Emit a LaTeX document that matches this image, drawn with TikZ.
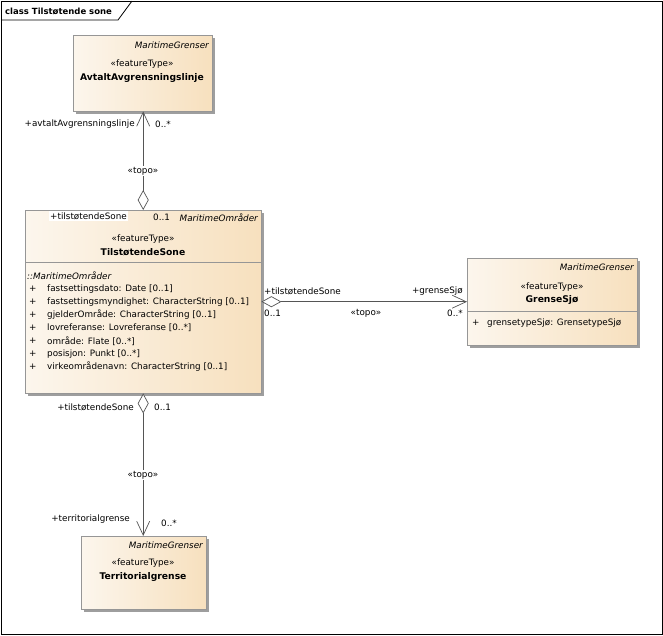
\documentclass[tikz,border=0pt]{standalone}
\usepackage{fontspec}
\setmainfont{DejaVu Sans}
\usetikzlibrary{positioning,arrows.meta,shadows}
\definecolor{boxlight}{RGB}{252,246,237}
\definecolor{boxdark}{RGB}{247,224,190}
\definecolor{boxline}{RGB}{150,150,150}
\definecolor{lineclr}{RGB}{85,85,85}
\tikzset{
  klasse/.style={draw=boxline,left color=boxlight,right color=boxdark,anchor=north west,inner sep=0pt,
    drop shadow={shadow xshift=3pt,shadow yshift=-3pt,fill=black!38,opacity=1}},
  lbl/.style={inner sep=1pt,font=\fontsize{8.8}{10}\selectfont},
  pakke/.style={lbl,anchor=east,font=\fontsize{8.8}{10}\selectfont\itshape},
  navn/.style={lbl,font=\fontsize{9.2}{11}\selectfont\bfseries},
  topo/.style={draw=lineclr,line width=0.7pt,
    {Diamond[open,fill=white,length=20pt,width=11pt]}-{Straight Barb[length=14pt,width=13pt]}},
}
\begin{document}
\begin{tikzpicture}[x=1pt,y=-1pt]
\useasboundingbox (0,0) rectangle (663,635);
\draw[line width=0.8pt] (1,1) rectangle (662,634);
\draw[line width=0.8pt] (1,20)--(118,20)--(132,1);
\node[lbl,anchor=west,font=\fontsize{8.5}{10}\selectfont\bfseries] (title) at (4,11) {class Tilstøtende sone};
\node[klasse,minimum width=139pt,minimum height=76pt] (avtalt) at (73,35) {};
\node[klasse,minimum width=236pt,minimum height=183pt] (sone) at (25,210) {};
\node[klasse,minimum width=170pt,minimum height=87pt] (sjo) at (467,258) {};
\node[klasse,minimum width=125pt,minimum height=73pt] (terr) at (81,536) {};
\draw[boxline] (sone.west |- 0,262)--(sone.east |- 0,262);
\draw[boxline] (sjo.west |- 0,311)--(sjo.east |- 0,311);
\node[pakke] (avtaltpk) at (210,45) {MaritimeGrenser};
\node[lbl] (avtaltst) at (142,64) {«featureType»};
\node[navn] (avtaltnm) at (142,78) {AvtaltAvgrensningslinje};
\node[pakke] (sonepk) at (259,218) {MaritimeOmråder};
\node[lbl] (sonest) at (143,239) {«featureType»};
\node[navn] (sonenm) at (143,252) {TilstøtendeSone};
\node[pakke,anchor=west] (sonearv) at (26,276) {::MaritimeOmråder};
\foreach \t [count=\i] in {fastsettingsdato: Date [0..1],
  fastsettingsmyndighet: CharacterString [0..1],
  gjelderOmråde: CharacterString [0..1],
  lovreferanse: Lovreferanse [0..*],
  område: Flate [0..*],
  posisjon: Punkt [0..*],
  virkeområdenavn: CharacterString [0..1]}{
  \node[lbl,anchor=west] (plus\i) at (28,276+13*\i) {+};
  \node[lbl,anchor=west] (attr\i) at (46,276+13*\i) {\t};
}
\node[pakke] (sjopk) at (635,267) {MaritimeGrenser};
\node[lbl] (sjost) at (552,287) {«featureType»};
\node[navn] (sjonm) at (552,300) {GrenseSjø};
\node[lbl,anchor=west] (sjoplus) at (471,323) {+};
\node[lbl,anchor=west] (sjoattr) at (486,323) {grensetypeSjø: GrensetypeSjø};
\node[pakke] (terrpk) at (204,545) {MaritimeGrenser};
\node[lbl] (terrst) at (143,563) {«featureType»};
\node[navn] (terrnm) at (143,577) {Territorialgrense};
\draw[topo] (sone.north)--(sone.north |- avtalt.south);
\draw[topo] (sone.east |- sjo.west)--(sjo.west);
\draw[topo] (sone.south)--(sone.south |- terr.north);
\node[lbl,fill=white] (topo1) at (143,171) {«topo»};
\node[lbl,anchor=east] (r1a) at (136,124) {+avtaltAvgrensningslinje};
\node[lbl,anchor=west] (m1a) at (154,124) {0..*};
\node[lbl,anchor=west,fill=white] (r1b) at (49,216) {+tilstøtendeSone};
\node[lbl,anchor=west] (m1b) at (152,217) {0..1};
\node[lbl] (topo2) at (366,313) {«topo»};
\node[lbl,anchor=west] (r2a) at (263,291) {+tilstøtendeSone};
\node[lbl,anchor=west] (m2a) at (263,313) {0..1};
\node[lbl,anchor=east] (r2b) at (464,291) {+grenseSjø};
\node[lbl,anchor=east] (m2b) at (464,313) {0..*};
\node[lbl,fill=white] (topo3) at (143,475) {«topo»};
\node[lbl,anchor=east] (r3a) at (135,407) {+tilstøtendeSone};
\node[lbl,anchor=west] (m3a) at (153,407) {0..1};
\node[lbl,anchor=east] (r3b) at (131,519) {+territorialgrense};
\node[lbl,anchor=west] (m3b) at (160,523) {0..*};
\end{tikzpicture}
\end{document}
